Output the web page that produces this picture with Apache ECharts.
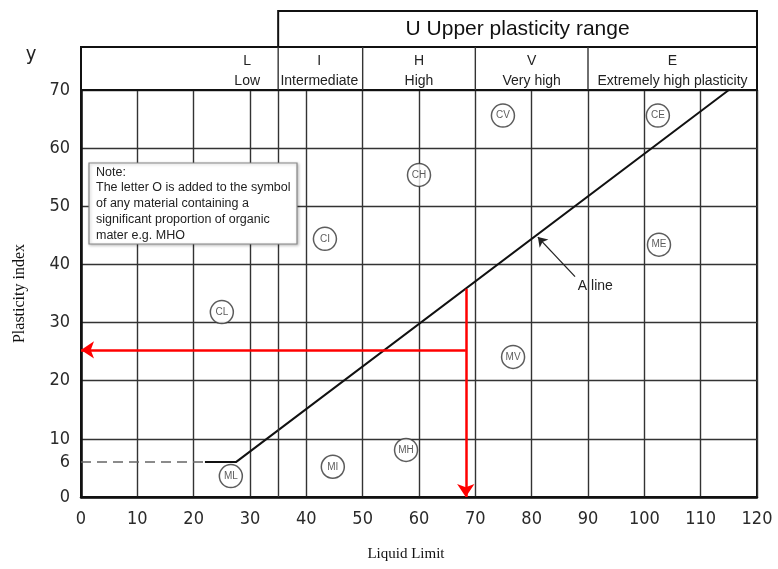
<!DOCTYPE html>
<html><head><meta charset="utf-8">
<script src="https://cdn.jsdelivr.net/npm/echarts@6/dist/echarts.min.js"></script>
<style>html,body{margin:0;padding:0;background:#fff}#c{width:778px;height:569px}</style>
</head><body><div id="c"></div>
<script>
// ---- data ----
const xTicks = [0,10,20,30,40,50,60,70,80,90,100,110,120];
const yTickLabels = [0,6,10,20,30,40,50,60,70];
const zoneLetters = ['L','I','H','V','E'];
const zoneNames = ['Low','Intermediate','High','Very high','Extremely high plasticity'];
const zoneLabelLL = [29.5,42.3,60,80,105];
const zoneBounds = [35,50,70,90];
const upperRangeStart = 35;
const upperRangeTitle = 'U Upper plasticity range';
const symbolNames = ['CL','CI','CH','CV','CE','ME','MV','MH','MI','ML'];
const symbolLL = [25.0,43.3,60.0,74.9,102.4,102.6,76.7,57.7,44.7,26.6];
const symbolPI = [31.8,44.4,55.4,65.6,65.6,43.4,24.1,8.1,5.2,3.6];
const aLineLL = [22,27.5,115];
const aLinePI = [6,6,70];
const dashedLL = [0,22];
const dashedPI = [6,6];
const readLL = 68.3;
const readPI = 25.3;
const readLineTopPI = 35.8;
const aLabelFrom = [87.7,37.9];
const aLabelTo = [81.1,44.7];
const aLabelPos = [88.2,36.3];
const noteLines = ['Note:','The letter O is added to the symbol','of any material containing a','significant proportion of organic','mater e.g. MHO'];

const chart = echarts.init(document.getElementById('c'));
const tickFont = "'DejaVu Sans Condensed','Liberation Sans Narrow','DejaVu Sans',sans-serif";
const sans = "'Liberation Sans',Arial,sans-serif";
const gridCol = '#333';

const arrowSeg = (a,b,size)=>[{coord:a,symbol:'none'},{coord:b,symbol:'arrow',symbolSize:size}];

const option = {
  animation:false,
  backgroundColor:'#fff',
  grid:{left:81,right:21,top:90,bottom:72,show:true,borderColor:'#111',borderWidth:2,backgroundColor:'transparent'},
  xAxis:{type:'value',min:0,max:120,interval:10,
    axisLine:{lineStyle:{color:'#111',width:2.5}},axisTick:{show:false},
    axisLabel:{color:'#2a2a2a',fontSize:18,margin:13,fontFamily:tickFont,customValues:xTicks},
    splitLine:{show:true,lineStyle:{color:gridCol,width:1.4}},
    name:'Liquid Limit',nameLocation:'middle',nameGap:50,
    nameTextStyle:{fontFamily:"'Liberation Serif','DejaVu Serif',serif",fontSize:15,color:'#111',padding:[0,26,0,0]}},
  yAxis:{type:'value',min:0,max:70,interval:10,
    axisLine:{show:true,lineStyle:{color:'#111',width:2.5}},axisTick:{show:false},
    axisLabel:{color:'#2a2a2a',fontSize:18,margin:11,fontFamily:tickFont,customValues:yTickLabels},
    splitLine:{show:true,lineStyle:{color:gridCol,width:1.4}},
    name:'Plasticity index',nameLocation:'middle',nameGap:53,
    nameTextStyle:{fontFamily:"'Liberation Serif','DejaVu Serif',serif",fontSize:16,color:'#111'}},
  series:[
    {type:'line',name:'dashed',data:dashedLL.map((v,i)=>[v,dashedPI[i]]),symbol:'none',
      lineStyle:{color:'#666',width:1.5,type:[10,6]},z:3,
      markLine:{silent:true,symbol:'none',label:{show:false},
        lineStyle:{color:gridCol,width:1.4,type:'solid'},
        data:zoneBounds.filter(b=>b%10!==0).map(b=>({xAxis:b}))}},
    {type:'line',name:'A line',data:aLineLL.map((v,i)=>[v,aLinePI[i]]),symbol:'none',
      lineStyle:{color:'#111',width:2},z:4,
      markLine:{silent:true,label:{show:false},
        lineStyle:{color:'#222',width:1.3,type:'solid'},
        data:[arrowSeg(aLabelFrom,aLabelTo,9)]}},
    {type:'line',name:'read',data:[[readLL,readPI]],symbol:'none',lineStyle:{opacity:0},z:6,
      markLine:{silent:true,label:{show:false},
        lineStyle:{color:'#ff0000',width:2.5,type:'solid'},
        data:[arrowSeg([readLL,readLineTopPI],[readLL,0],13),
              arrowSeg([readLL,readPI],[0,readPI],13)]}},
    {type:'scatter',name:'symbols',data:symbolNames.map((n,i)=>({name:n,value:[symbolLL[i],symbolPI[i]]})),
      symbol:'circle',symbolSize:23,z:7,
      itemStyle:{color:'#fff',borderColor:'#333',borderWidth:1.5},
      label:{show:true,position:'inside',formatter:'{b}',fontSize:10,color:'#333',fontFamily:sans}}
  ]
};
chart.setOption(option);

// header/annotation graphics positioned from the axes
const px = v => chart.convertToPixel({xAxisIndex:0},v);
const py = v => chart.convertToPixel({yAxisIndex:0},v);
const xL = px(0), xR = px(120), yTop = py(70);
const hdrTop = 47, uTop = 11;
const g = [];
g.push({type:'rect',shape:{x:xL,y:hdrTop,width:xR-xL,height:yTop-hdrTop},style:{fill:'none',stroke:'#111',lineWidth:2},z:10});
g.push({type:'rect',shape:{x:px(upperRangeStart),y:uTop,width:xR-px(upperRangeStart),height:hdrTop-uTop},style:{fill:'none',stroke:'#111',lineWidth:2},z:10});
zoneBounds.forEach(b=>{ g.push({type:'line',shape:{x1:px(b),y1:hdrTop,x2:px(b),y2:yTop},style:{stroke:'#333',lineWidth:1.4},z:10}); });
g.push({type:'text',x:(px(upperRangeStart)+xR)/2,y:(uTop+hdrTop)/2,style:{text:upperRangeTitle,fontSize:21,fill:'#111',align:'center',verticalAlign:'middle',fontFamily:sans},z:11});
zoneLetters.forEach((l,i)=>{
  g.push({type:'text',x:px(zoneLabelLL[i]),y:61,style:{text:l,fontSize:14,fill:'#222',align:'center',verticalAlign:'middle',fontFamily:sans},z:11});
  g.push({type:'text',x:px(zoneLabelLL[i]),y:81,style:{text:zoneNames[i],fontSize:14,fill:'#222',align:'center',verticalAlign:'middle',fontFamily:sans},z:11});
});
g.push({type:'text',x:31,y:55,style:{text:'y',fontSize:20,fill:'#222',align:'center',verticalAlign:'middle',fontFamily:tickFont},z:11});
// note box
g.push({type:'rect',shape:{x:89,y:163,width:208,height:81},style:{fill:'#fff',stroke:'#888',lineWidth:1.2,shadowBlur:3,shadowColor:'rgba(0,0,0,0.25)',shadowOffsetX:1,shadowOffsetY:1},z:12});
noteLines.forEach((t,i)=>{
  g.push({type:'text',x:96,y:173+i*16-(i>0?1:0),style:{text:t,fontSize:12.5,fill:'#222',align:'left',verticalAlign:'middle',fontFamily:sans},z:13});
});
// A line label
g.push({type:'text',x:px(aLabelPos[0]),y:py(aLabelPos[1]),style:{text:'A line',fontSize:14,fill:'#222',align:'left',verticalAlign:'middle',fontFamily:sans},z:11});
chart.setOption({graphic:g});
</script></body></html>
